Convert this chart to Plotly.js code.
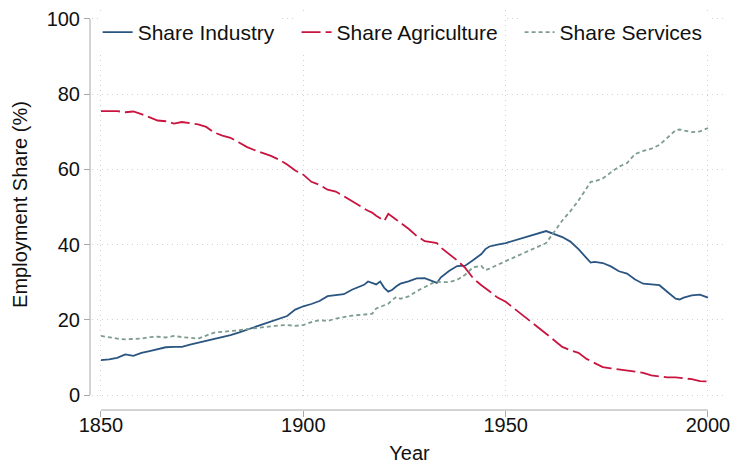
<!DOCTYPE html>
<html>
<head>
<meta charset="utf-8">
<script src="https://cdn.plot.ly/plotly-3.0.1.min.js"></script>
<style>html,body{margin:0;padding:0;background:#fff;}#chart{width:735px;height:464px;}</style>
</head>
<body>
<div id="chart"></div>
<script>
const years = [1850,1852,1854,1856,1858,1860,1862,1864,1866,1868,1870,1872,1874,1876,1878,1880,1882,1884,1886,1888,1890,1892,1894,1896,1898,1900,1902,1904,1906,1908,1910,1912,1914,1915,1916,1917,1918,1919,1920,1921,1922,1923,1924,1926,1928,1930,1932,1933,1934,1936,1938,1940,1942,1944,1945,1946,1948,1950,1960,1962,1964,1966,1968,1970,1971,1972,1974,1976,1978,1980,1982,1984,1986,1988,1990,1992,1993,1994,1996,1998,2000];

const shareIndustry = [9.3,9.5,9.9,10.8,10.4,11.2,11.7,12.2,12.7,12.8,12.8,13.4,13.9,14.4,14.8,15.3,15.9,16.6,17.3,18.0,18.8,19.4,20.1,21.0,22.7,23.6,24.2,25.0,26.3,26.5,26.8,28.0,28.8,29.3,30.2,29.8,29.4,30.2,28.5,27.5,28.0,28.9,29.6,30.2,31.0,31.1,30.2,29.8,31.3,33.0,34.3,34.4,35.9,37.5,38.8,39.5,40.0,40.4,43.6,42.7,42.0,40.8,38.8,36.4,35.2,35.4,35.1,34.2,32.9,32.3,30.7,29.6,29.5,29.2,27.4,25.6,25.4,25.9,26.5,26.7,25.9];

const shareAgriculture = [75.5,75.5,75.5,75.2,75.4,74.7,73.8,73.0,72.8,72.2,72.6,72.3,72.0,71.3,69.8,69.0,68.4,67.2,66.0,65.1,64.4,63.6,62.6,61.3,59.7,58.6,56.7,55.9,54.6,54.1,52.9,51.5,50.2,49.6,49.0,48.5,47.7,47.1,46.3,48.2,47.3,46.6,45.8,44.2,42.3,40.9,40.6,40.4,39.2,37.5,35.8,33.8,31.0,29.2,28.5,27.6,25.9,24.8,16.3,14.6,12.8,11.9,11.2,9.6,9.0,8.4,7.4,7.1,6.8,6.5,6.1,5.9,5.2,4.9,4.7,4.7,4.6,4.5,4.2,3.7,3.6];

const shareServices = [15.7,15.3,15.0,14.8,14.9,15.0,15.4,15.5,15.3,15.7,15.4,15.1,15.0,15.8,16.6,16.8,16.9,17.2,17.5,17.8,18.0,18.2,18.5,18.6,18.4,18.6,19.4,19.9,19.7,20.3,20.8,21.1,21.3,21.4,21.5,21.6,23.0,23.5,24.0,24.3,25.3,26.1,25.6,26.2,27.6,28.8,29.8,30.1,30.0,30.0,30.6,32.0,34.0,34.3,33.2,33.6,34.7,35.6,40.4,43.4,46.4,48.9,51.7,55.0,56.7,56.8,57.6,59.2,60.7,61.7,64.1,64.9,65.5,66.5,68.5,70.4,70.6,70.3,69.9,70.1,71.0];

const xTicks = [1850,1900,1950,2000];
const yTicks = [0,20,40,60,80,100];
const seriesNames = ['Share Industry','Share Agriculture','Share Services'];

const FONT = 'Liberation Sans, Arial, sans-serif';
const AXIS_GRAY = '#a8a8a8';
const GRID_GRAY = '#d2d2d2';

const traces = [
  {x: years, y: shareIndustry, name: seriesNames[0], type: 'scatter', mode: 'lines', legend: 'legend',
   line: {color: '#2a5580', width: 1.8}},
  {x: years, y: shareAgriculture, name: seriesNames[1], type: 'scatter', mode: 'lines', legend: 'legend2',
   line: {color: '#c8143e', width: 1.8, dash: '19px,5px'}},
  {x: years, y: shareServices, name: seriesNames[2], type: 'scatter', mode: 'lines', legend: 'legend3',
   line: {color: '#7d9d8e', width: 1.8, dash: '4px,3px'}}
];

function legendAt(xp) {
  return {orientation: 'h', x: xp, y: 0.995, xanchor: 'left', yanchor: 'top',
          bgcolor: '#fff', font: {family: FONT, size: 21, color: '#111'}};
}

const layout = {
  width: 735, height: 464,
  margin: {l: 90, r: 8, t: 10, b: 54},
  paper_bgcolor: '#fff', plot_bgcolor: '#fff',
  font: {family: FONT, size: 20, color: '#111'},
  showlegend: true,
  legend: legendAt(0.012),
  legend2: legendAt(0.3243),
  legend3: legendAt(0.6744),
  xaxis: {
    domain: [2/637, 1],
    range: [1847.78, 2004.7],
    anchor: 'free', position: 0,
    tickvals: xTicks, ticktext: xTicks.map(String),
    ticks: 'outside', ticklen: 6, tickcolor: AXIS_GRAY, tickwidth: 1,
    ticklabelstandoff: -9,
    showline: false, zeroline: false,
    showgrid: true, gridcolor: GRID_GRAY, griddash: '1px,4px', gridwidth: 1,
    tickfont: {family: FONT, size: 20, color: '#111'},
    title: {text: 'Year', font: {family: FONT, size: 20, color: '#111'}, standoff: 11}
  },
  yaxis: {
    domain: [11/400, 1],
    range: [-1.064, 102.39],
    anchor: 'free', position: 0,
    tickvals: yTicks, ticktext: yTicks.map(String),
    ticks: 'outside', ticklen: 6, tickcolor: AXIS_GRAY, tickwidth: 1,
    showline: false, zeroline: false,
    showgrid: true, gridcolor: GRID_GRAY, griddash: '1px,4px', gridwidth: 1,
    tickfont: {family: FONT, size: 20, color: '#111'},
    title: {text: 'Employment Share (%)', font: {family: FONT, size: 20, color: '#111'}, standoff: 12}
  },
  shapes: [
    {type: 'line', xref: 'x', yref: 'paper', x0: xTicks[0], x1: xTicks[xTicks.length-1], y0: 0, y1: 0,
     line: {color: AXIS_GRAY, width: 1}},
    {type: 'line', xref: 'paper', yref: 'y', x0: 0, x1: 0, y0: yTicks[0], y1: yTicks[yTicks.length-1],
     line: {color: AXIS_GRAY, width: 1}}
  ]
};

Plotly.newPlot('chart', traces, layout, {staticPlot: true, displayModeBar: false});
</script>
</body>
</html>
